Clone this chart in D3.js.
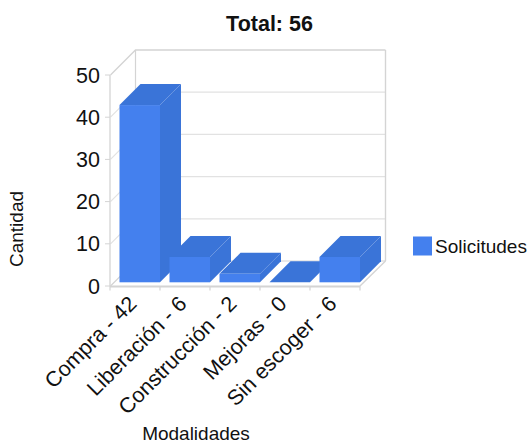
<!DOCTYPE html>
<html><head><meta charset="utf-8">
<script src="https://cdnjs.cloudflare.com/ajax/libs/d3/7.8.5/d3.min.js"></script>
<style>html,body{margin:0;padding:0;background:#fff}svg{display:block}text{font-family:"Liberation Sans",Arial,sans-serif;fill:#111}</style>
</head><body><svg id="c" width="530" height="442"></svg>
<script>
const categories=["Compra - 42","Liberación - 6","Construcción - 2","Mejoras - 0","Sin escoger - 6"];
const values=[42,6,2,0,6];
const yTicks=[0,10,20,30,40,50];
const seriesName="Solicitudes";
const chartTitle="Total: 56";
const xTitle="Modalidades";
const yTitle="Cantidad";

const svg=d3.select("#c");
const x=d3.scaleBand().domain(categories).range([110,360]);
const y=d3.scaleLinear().domain([0,50]).range([286,75]);
const wallDx=25.5,wallDy=-25,gapDy=-3.7,depthDx=21,depthDy=-21,barInset=9.5,barW=40.5;
const wall="#d4d4d4",wallLight="#e2e2e2";
const frontCol="#4480ee",sideCol="#3a74d8",topCol="#3a74d8";

const g=svg.append("g");
yTicks.forEach(t=>{
  const yy=y(t);
  g.append("path").attr("d",`M${x.range()[0]+.5},${yy}L${x.range()[0]+wallDx},${yy+wallDy}L${x.range()[1]+wallDx},${yy+wallDy}`)
   .attr("fill","none").attr("stroke",t===50||t===0?wall:wallLight).attr("stroke-width",t===50?1.4:1.2);
  g.append("line").attr("x1",x.range()[0]-5).attr("x2",x.range()[0]).attr("y1",yy).attr("y2",yy).attr("stroke",wall);
  svg.append("text").attr("x",100).attr("y",yy+7.5).attr("text-anchor","end").attr("font-size",21.5).text(t);
});
g.append("line").attr("x1",110).attr("x2",110).attr("y1",y(50)).attr("y2",y(0)).attr("stroke",wall).attr("stroke-width",1.3);
g.append("line").attr("x1",110+wallDx).attr("x2",110+wallDx).attr("y1",y(50)+wallDy).attr("y2",y(0)+wallDy).attr("stroke",wall).attr("stroke-width",1.2);
g.append("line").attr("x1",360+wallDx).attr("x2",360+wallDx).attr("y1",y(50)+wallDy).attr("y2",y(0)+wallDy).attr("stroke",wall).attr("stroke-width",1.4);
g.append("line").attr("x1",360).attr("x2",360+wallDx).attr("y1",y(0)).attr("y2",y(0)+wallDy).attr("stroke",wall).attr("stroke-width",1.4);
g.append("line").attr("x1",110).attr("x2",360).attr("y1",y(0)+.5).attr("y2",y(0)+.5).attr("stroke",wall).attr("stroke-width",2);
categories.concat("end").forEach((c,i)=>{
  const xx=110+i*x.bandwidth();
  g.append("line").attr("x1",xx).attr("x2",xx).attr("y1",y(0)).attr("y2",y(0)+4.5).attr("stroke",wall).attr("stroke-width",1.2);
});
categories.forEach((c,i)=>{
  const x0=x(c)+barInset,x1=x0+barW,b=y(0)+gapDy,t=y(values[i])+gapDy;
  const d=depthDx,e=depthDy;
  g.append("path").attr("d",`M${x1},${t}L${x1+d},${t+e}L${x1+d},${b+e}L${x1},${b}Z`).attr("fill",sideCol);
  g.append("path").attr("d",`M${x0},${t}L${x0+d},${t+e}L${x1+d},${t+e}L${x1},${t}Z`).attr("fill",topCol);
  if(values[i]>0) g.append("rect").attr("x",x0).attr("y",t).attr("width",barW).attr("height",b-t).attr("fill",frontCol);
});
categories.forEach(c=>{
  const xx=x(c)+x.bandwidth()/2-8, yy=294;
  svg.append("text").attr("transform",`translate(${xx},${yy}) rotate(-45)`).attr("text-anchor","end").attr("dy","0.72em").attr("font-size",21.5).text(c);
});
svg.append("text").attr("x",269.5).attr("y",31).attr("text-anchor","middle").attr("font-size",21.5).attr("font-weight","bold").text(chartTitle);
svg.append("text").attr("x",196).attr("y",440).attr("text-anchor","middle").attr("font-size",19).text(xTitle);
svg.append("text").attr("transform","translate(23,229) rotate(-90)").attr("text-anchor","middle").attr("font-size",19).text(yTitle);
svg.append("rect").attr("x",413).attr("y",236.5).attr("width",19).attr("height",19).attr("fill",frontCol);
svg.append("text").attr("x",435).attr("y",253).attr("font-size",19).text(seriesName);
</script></body></html>
